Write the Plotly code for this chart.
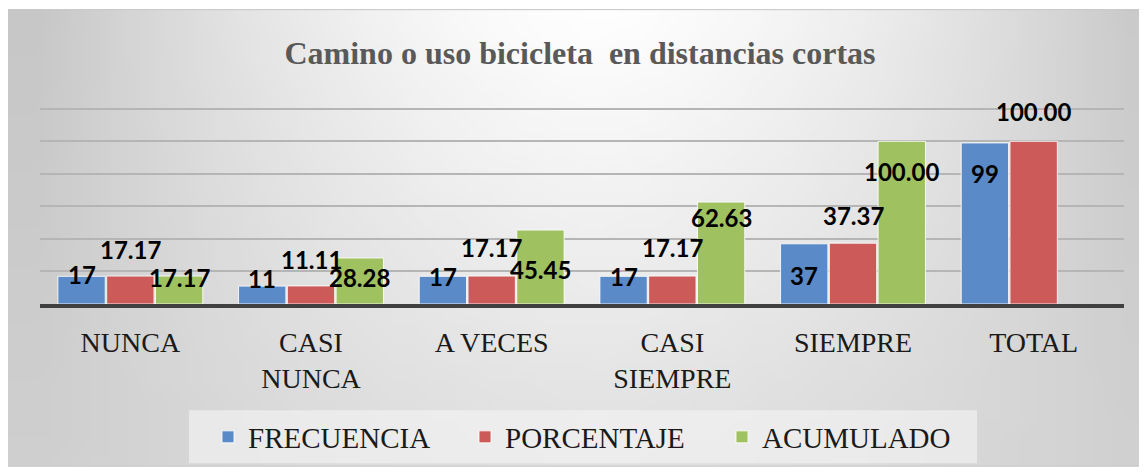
import base64
import struct
import zlib

import plotly.graph_objects as go

# ---------------- data ----------------
categories = ["NUNCA", "CASI<br>NUNCA", "A VECES", "CASI<br>SIEMPRE", "SIEMPRE", "TOTAL"]
series_names = ["FRECUENCIA", "PORCENTAJE", "ACUMULADO"]
frecuencia = [17, 11, 17, 17, 37, 99]
porcentaje = [17.17, 11.11, 17.17, 17.17, 37.37, 100.00]
acumulado = [17.17, 28.28, 45.45, 62.63, 100.00, None]
title_text = "Camino o uso bicicleta  en distancias cortas"

# ---------------- styling ----------------
OFF = 8                      # the page body margin offsets the figure
W, H = 1147 - OFF, 472 - OFF
Y_TOP = 126                  # axis top (keeps the 120 gridline visible)


def X(px):
    return px - OFF


def Y(py):
    return py - OFF


PL, PR, PB = X(40), X(1124), Y(304)
PT = PB - 195 * Y_TOP / 120.0
colors = ["#5a8bc8", "#cb5a59", "#9fc160"]
bar_step = 0.27
bar_width = 0.262
# label vertical nudges (pixels, + = up) relative to each bar's top
label_shift = [
    [2, 8, 0, 0, -32, -31],
    [27, 26, 29, 29, 28, 30],
    [-1, -20, -39, -15, -30, 0],
]


def px_to_paper_x(px):
    return (X(px) - PL) / (PR - PL)


def px_to_paper_y(py):
    return (PB - Y(py)) / (PB - PT)


def make_png(w, h, fn):
    raw = b""
    for j in range(h):
        raw += b"\x00"
        for i in range(w):
            v = max(0, min(255, int(round(fn(i / (w - 1), j / (h - 1))))))
            raw += bytes([v, v, v])

    def chunk(tag, data):
        c = tag + data
        return struct.pack(">I", len(data)) + c + struct.pack(">I", zlib.crc32(c) & 0xFFFFFFFF)

    png = b"\x89PNG\r\n\x1a\n"
    png += chunk(b"IHDR", struct.pack(">IIBBBBB", w, h, 8, 2, 0, 0, 0))
    png += chunk(b"IDAT", zlib.compress(raw, 9))
    png += chunk(b"IEND", b"")
    return "data:image/png;base64," + base64.b64encode(png).decode()


def bg_shade(u, v):
    dx = abs(u - 0.52) / 0.5
    edge = min(1.0, dx) ** 1.6
    return 254 - 55 * edge - 30 * v * (1 - edge) + 8 * v * edge


bg_uri = make_png(60, 24, bg_shade)

fig = go.Figure()
series = [frecuencia, porcentaje, acumulado]
for k, (name, vals) in enumerate(zip(series_names, series)):
    xs = [i + (k - 1) * bar_step for i in range(len(categories))]
    fig.add_trace(go.Bar(
        x=xs, y=vals, name=name, width=bar_width,
        marker=dict(color=colors[k], line=dict(color="rgba(255,255,255,0.85)", width=1)),
        hoverinfo="skip",
    ))
    for i, v in enumerate(vals):
        if v is None:
            continue
        txt = f"{v:d}" if isinstance(v, int) else f"{v:.2f}"
        fig.add_annotation(
            x=xs[i], y=v, text=f"<b>{txt}</b>", showarrow=False,
            yanchor="middle", xanchor="center", yshift=label_shift[k][i],
            font=dict(family="Lato", size=24, color="#000000"),
        )

# background gradient + border
fig.add_layout_image(dict(
    source=bg_uri, xref="paper", yref="paper",
    x=px_to_paper_x(6), y=px_to_paper_y(10),
    sizex=(1140 - 6) / (PR - PL), sizey=(466 - 10) / (PB - PT),
    xanchor="left", yanchor="top", sizing="stretch", layer="below",
))
fig.add_shape(type="rect", xref="paper", yref="paper",
              x0=px_to_paper_x(6), x1=px_to_paper_x(1140),
              y0=px_to_paper_y(466), y1=px_to_paper_y(10),
              line=dict(color="#c4c4c4", width=1), fillcolor="rgba(0,0,0,0)", layer="below")
# legend box
fig.add_shape(type="rect", xref="paper", yref="paper",
              x0=px_to_paper_x(189), x1=px_to_paper_x(977),
              y0=px_to_paper_y(463), y1=px_to_paper_y(410),
              line=dict(width=0), fillcolor="rgba(245,245,245,0.6)", layer="below")

fig.update_layout(
    width=W, height=H,
    margin=dict(l=PL, r=W - PR, t=PT, b=H - PB, pad=0),
    paper_bgcolor="white",
    plot_bgcolor="rgba(0,0,0,0)",
    barmode="overlay",
    showlegend=True,
    title=dict(
        text=title_text, xref="container", yref="container",
        x=X(580) / W, xanchor="center", y=1 - Y(53) / H, yanchor="middle",
        font=dict(family="Liberation Serif", size=32, color="#595959", weight="bold"),
    ),
    legend=dict(
        orientation="h", xref="container", yref="container",
        x=X(208) / W, xanchor="left", y=1 - Y(437) / H, yanchor="middle",
        bgcolor="rgba(0,0,0,0)", entrywidth=212, entrywidthmode="pixels",
        font=dict(family="Liberation Serif", size=29, color="#1a1a1a"),
        itemclick=False, itemdoubleclick=False,
    ),
    xaxis=dict(
        range=[-0.5, len(categories) - 0.5],
        tickmode="array", tickvals=list(range(len(categories))), ticktext=categories,
        showgrid=False, zeroline=False,
        showline=True, linecolor="#404040", linewidth=4,
        ticks="", ticklabelstandoff=10,
        tickfont=dict(family="Liberation Serif", size=28, color="#1a1a1a"),
        fixedrange=True,
    ),
    yaxis=dict(
        range=[0, Y_TOP], tickmode="array", tickvals=[20, 40, 60, 80, 100, 120],
        showticklabels=False,
        showgrid=True, gridcolor="#b5b5b5", gridwidth=2,
        zeroline=False, showline=False, fixedrange=True,
    ),
)

fig.write_html("out.html")
